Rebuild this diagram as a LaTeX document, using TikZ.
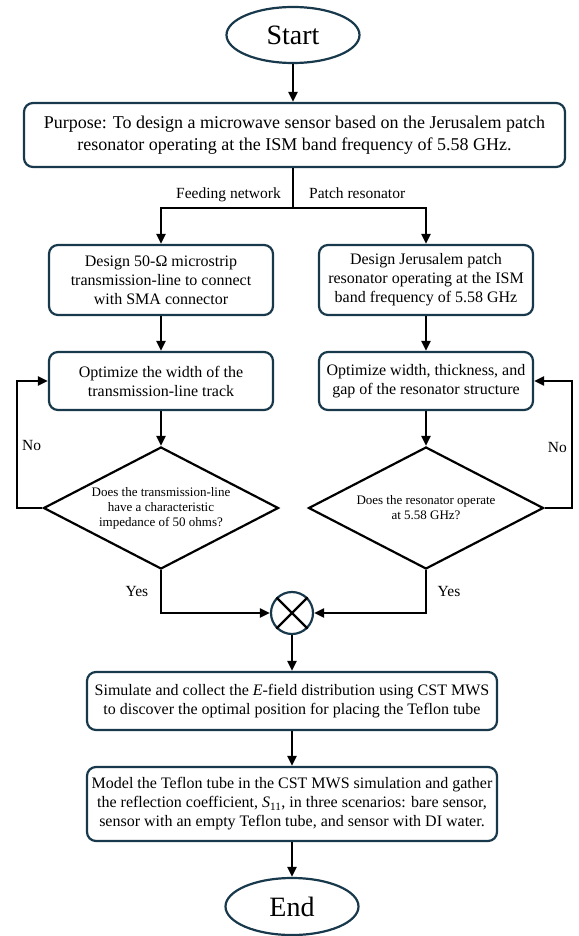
\documentclass[tikz,border=0pt]{standalone}
\usepackage{fontspec}
\setmainfont{Liberation Serif}
\usetikzlibrary{shapes.geometric,arrows.meta,positioning}
\definecolor{navy}{RGB}{24,56,76}
\begin{document}
\begin{tikzpicture}[x=1pt,y=-1pt,
  box/.style={draw=navy, line width=2.2pt, rounded corners=9pt, align=center, inner sep=0pt, font=\fontsize{16}{19}\selectfont},
  term/.style={draw=navy, line width=2.2pt, ellipse, inner sep=0pt, font=\fontsize{28}{30}\selectfont},
  dec/.style={draw=black, line width=2.2pt, diamond, aspect=1.93, inner sep=0pt, minimum width=235pt, minimum height=122pt, align=center, font=\fontsize{13}{15}\selectfont},
  arr/.style={-{Triangle[length=10pt,width=9pt]}, line width=2.2pt},
  ln/.style={line width=2.2pt},
  lab/.style={font=\fontsize{15.5}{17}\selectfont, inner sep=0pt}
]
\useasboundingbox (0,0) rectangle (578,936);

\node[term, minimum width=133pt, minimum height=56pt] (start) at (293,35) {Start};
\node[box, minimum width=541pt, minimum height=64pt, font=\fontsize{18}{22}\selectfont] (purpose) at (294.5,135)
  {Purpose: To design a microwave sensor based on the Jerusalem patch\\resonator operating at the ISM band frequency of 5.58 GHz.};

\node[box, minimum width=224pt, minimum height=70pt] (a1) at (161,280)
  {Design 50-Ω microstrip\\transmission-line to connect\\with SMA connector};
\node[box, minimum width=214pt, minimum height=70pt] (b1) at (426,280)
  {Design Jerusalem patch\\resonator operating at the ISM\\band frequency of 5.58 GHz};

\node[box, minimum width=224pt, minimum height=58pt] (a2) at (161,381)
  {Optimize the width of the\\transmission-line track};
\node[box, minimum width=214pt, minimum height=58pt] (b2) at (426,381)
  {Optimize width, thickness, and\\gap of the resonator structure};

\node[dec] (da) at (161,508) {Does the transmission-line\\have a characteristic\\impedance of 50 ohms?};
\node[dec] (db) at (426,508) {Does the resonator operate\\at 5.58 GHz?};

\node[draw=navy, line width=2.2pt, circle, minimum size=42pt, inner sep=0pt] (sum) at (292,613) {};
\draw[ln] (sum.north west) -- (sum.south east);
\draw[ln] (sum.north east) -- (sum.south west);

\node[box, minimum width=410pt, minimum height=58pt] (c) at (292,701)
  {Simulate and collect the \textit{E}-field distribution using CST MWS\\to discover the optimal position for placing the Teflon tube};
\node[box, minimum width=410pt, minimum height=74pt] (d) at (292,804)
  {Model the Teflon tube in the CST MWS simulation and gather\\the reflection coefficient, \textit{S}\textsubscript{11}, in three scenarios: bare sensor,\\sensor with an empty Teflon tube, and sensor with DI water.};

\node[term, minimum width=133pt, minimum height=57pt] (end) at (292,906.5) {End};

% connectors
\draw[arr] (start.south) -- (purpose.north -| start.south);
\coordinate (split) at (293,208);
\draw[ln] (purpose.south -| split) -- (split);
\draw[arr] (split) -| (a1.north);
\draw[arr] (split) -| (b1.north);
\node[lab, anchor=base east] (fn) at (281,198) {Feeding network};
\node[lab, anchor=base west] (pr) at (309,198) {Patch resonator};

\draw[arr] (a1.south) -- (a2.north);
\draw[arr] (b1.south) -- (b2.north);
\draw[arr] (a2.south) -- (da.north);
\draw[arr] (b2.south) -- (db.north);

\coordinate (lx) at (17,0);
\coordinate (rx) at (572,0);
\draw[arr] (da.west) -- (da.west -| lx) -- (a2.west -| lx) -- (a2.west);
\draw[arr] (db.east) -- (db.east -| rx) -- (b2.east -| rx) -- (b2.east);
\node[lab, anchor=west] (noa) at (22,445) {No};
\node[lab, anchor=east] (nob) at (567,447) {No};

\draw[arr] (da.south) |- (sum.west);
\draw[arr] (db.south) |- (sum.east);
\node[lab] (yesa) at (137,591) {Yes};
\node[lab] (yesb) at (449,591) {Yes};

\draw[arr] (sum.south) -- (c.north);
\draw[arr] (c.south) -- (d.north);
\draw[arr] (d.south) -- (end.north);
\end{tikzpicture}
\end{document}
